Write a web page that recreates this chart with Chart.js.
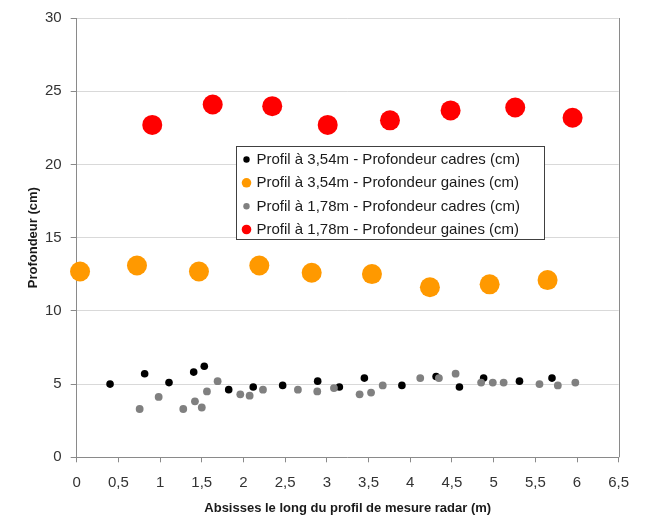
<!DOCTYPE html>
<html>
<head>
<meta charset="utf-8">
<script src="https://cdn.jsdelivr.net/npm/chart.js@4"></script>
<style>
  html, body { margin: 0; padding: 0; background: #ffffff; }
  #wrap { width: 646px; height: 516px; position: relative; }
</style>
</head>
<body>
<div id="wrap"><canvas id="c" width="646" height="516"></canvas></div>
<script>
// ---- Data ----
const seriesLabels = [
  "Profil à 3,54m - Profondeur cadres (cm)",
  "Profil à 3,54m - Profondeur gaines (cm)",
  "Profil à 1,78m - Profondeur cadres (cm)",
  "Profil à 1,78m - Profondeur gaines (cm)"
];
const cadres354X = [0.40, 0.815, 1.107, 1.403, 1.53, 1.823, 2.117, 2.47, 2.89, 3.15, 3.45, 3.90, 4.31, 4.59, 4.88, 5.31, 5.70];
const cadres354Y = [5.00, 5.71, 5.10, 5.82, 6.22, 4.62, 4.80, 4.91, 5.20, 4.80, 5.41, 4.91, 5.52, 4.80, 5.41, 5.20, 5.41];
const gaines354X = [0.04, 0.723, 1.466, 2.19, 2.818, 3.541, 4.236, 4.952, 5.647];
const gaines354Y = [12.69, 13.10, 12.69, 13.10, 12.60, 12.51, 11.61, 11.81, 12.10];
const cadres178X = [0.755, 0.983, 1.278, 1.418, 1.50, 1.562, 1.69, 1.962, 2.074, 2.234, 2.653, 2.885, 3.085, 3.393, 3.53, 3.67, 4.12, 4.344, 4.544, 4.85, 4.99, 5.12, 5.55, 5.77, 5.98];
const cadres178Y = [3.30, 4.12, 3.30, 3.82, 3.40, 4.50, 5.20, 4.30, 4.21, 4.62, 4.62, 4.50, 4.73, 4.30, 4.42, 4.91, 5.41, 5.41, 5.71, 5.10, 5.10, 5.10, 5.00, 4.91, 5.10];
const gaines178X = [0.906, 1.631, 2.345, 3.01, 3.757, 4.484, 5.259, 5.947];
const gaines178Y = [22.70, 24.09, 23.98, 22.70, 23.01, 23.69, 23.89, 23.19];
const xAxis = { min: 0, max: 6.5, step: 0.5, title: "Absisses le long du profil de mesure radar (m)" };
const yAxis = { min: 0, max: 30, step: 5, title: "Profondeur (cm)" };

const pts = (xs, ys) => xs.map((x, i) => ({ x: x, y: ys[i] }));

const colors = ["#000000", "#FF9900", "#808080", "#FF0000"];
const radii = [3.8, 10, 3.9, 10];
const legendRadii = [3.2, 4.8, 3.2, 4.8];
const FONT = "'Liberation Sans', Arial, sans-serif";

const datasets = [
  { label: seriesLabels[0], data: pts(cadres354X, cadres354Y), order: 4 },
  { label: seriesLabels[1], data: pts(gaines354X, gaines354Y), order: 2 },
  { label: seriesLabels[2], data: pts(cadres178X, cadres178Y), order: 3 },
  { label: seriesLabels[3], data: pts(gaines178X, gaines178Y), order: 1 }
].map((d, i) => Object.assign(d, {
  backgroundColor: colors[i],
  borderColor: colors[i],
  borderWidth: 0,
  pointRadius: radii[i],
  pointHoverRadius: radii[i],
  clip: false
}));

const framePlugin = {
  id: 'frame',
  afterDatasetsDraw(chart) {
    const ctx = chart.ctx, a = chart.chartArea;
    ctx.save();
    ctx.strokeStyle = '#8a8a8a';
    ctx.lineWidth = 1;
    ctx.beginPath();
    ctx.moveTo(Math.round(a.right) + 0.5, a.top);
    ctx.lineTo(Math.round(a.right) + 0.5, a.bottom);
    ctx.stroke();
    ctx.restore();
  },
  afterDraw(chart) {
    const ctx = chart.ctx;
    const bx = 236.5, by = 146.5, bw = 308, bh = 93;
    ctx.save();
    ctx.fillStyle = '#ffffff';
    ctx.fillRect(bx, by, bw, bh);
    ctx.strokeStyle = '#404040';
    ctx.lineWidth = 1;
    ctx.strokeRect(bx, by, bw, bh);
    ctx.font = "15px " + FONT;
    ctx.textBaseline = 'middle';
    ctx.textAlign = 'left';
    const rowsY = [159.5, 182.8, 206.2, 229.5];
    chart.data.datasets.forEach((d, i) => {
      ctx.fillStyle = d.backgroundColor;
      ctx.beginPath();
      ctx.arc(246.5, rowsY[i], legendRadii[i], 0, Math.PI * 2);
      ctx.fill();
      ctx.fillStyle = '#1a1a1a';
      ctx.fillText(d.label, 256.5, rowsY[i] + 0.5);
    });
    ctx.restore();
  }
};

new Chart(document.getElementById('c'), {
  type: 'scatter',
  data: { datasets: datasets },
  options: {
    responsive: false,
    animation: false,
    events: [],
    layout: { padding: { top: 14.5, right: 27.3, left: 0, bottom: 0 } },
    plugins: { legend: { display: false }, tooltip: { enabled: false } },
    scales: {
      x: {
        type: 'linear',
        min: xAxis.min, max: xAxis.max,
        afterFit(scale) { scale.height = 58.7; },
        afterBuildTicks(scale) {
          const t = [];
          for (let v = xAxis.min; v <= xAxis.max + 1e-9; v += xAxis.step) t.push({ value: Math.round(v * 10) / 10 });
          scale.ticks = t;
        },
        ticks: {
          padding: 12,
          maxRotation: 0,
          autoSkip: false,
          color: '#333333',
          font: { family: FONT, size: 15 },
          callback: (v) => String(v).replace('.', ',')
        },
        grid: { drawOnChartArea: false, drawTicks: true, tickLength: 5, tickColor: '#8a8a8a', color: '#8a8a8a' },
        border: { color: '#8a8a8a', width: 1 },
        title: { display: true, text: xAxis.title, color: '#1a1a1a', font: { family: FONT, size: 13, weight: 'bold' }, padding: { top: 0, bottom: 0 } }
      },
      y: {
        type: 'linear',
        min: yAxis.min, max: yAxis.max,
        afterFit(scale) { scale.width = 76.7; },
        ticks: {
          stepSize: yAxis.step,
          padding: 9,
          color: '#333333',
          font: { family: FONT, size: 15 }
        },
        grid: { color: '#d9d9d9', tickLength: 6, tickColor: '#8a8a8a', drawTicks: true },
        border: { color: '#8a8a8a', width: 1 },
        title: { display: true, text: yAxis.title, color: '#1a1a1a', font: { family: FONT, size: 13, weight: 'bold' }, padding: { top: 26, bottom: 0 } }
      }
    }
  },
  plugins: [framePlugin]
});
</script>
</body>
</html>
